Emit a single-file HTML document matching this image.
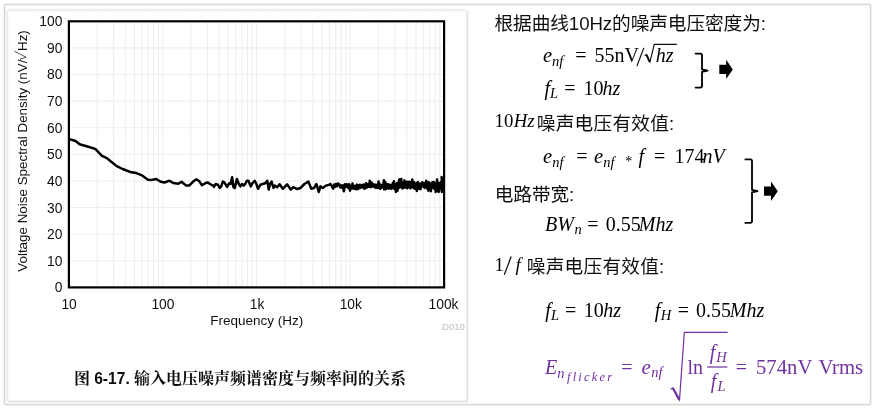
<!DOCTYPE html>
<html lang="zh"><head><meta charset="utf-8"><title>Figure 6-17</title>
<style>html,body{margin:0;padding:0;background:#fff;}body{width:875px;height:409px;overflow:hidden;font-family:"Liberation Sans",sans-serif;}svg{display:block;}</style>
</head><body>
<svg width="875" height="409" viewBox="0 0 875 409">
<title>图 6-17. 输入电压噪声频谱密度与频率间的关系</title>
<desc>Voltage Noise Spectral Density (nV/√Hz) vs Frequency (Hz), 10 Hz to 100 kHz. 根据曲线10Hz的噪声电压密度为: e_nf = 55nV/√hz, f_L = 10hz. 10Hz噪声电压有效值: e_nf = e_nf * f = 174nV. 电路带宽: BW_n = 0.55Mhz. 1/f噪声电压有效值: f_L = 10hz, f_H = 0.55Mhz. E_n_flicker = e_nf √(ln f_H/f_L) = 574nV Vrms</desc>
<defs><filter id="soft" x="0" y="0" width="875" height="409" filterUnits="userSpaceOnUse"><feGaussianBlur stdDeviation="0.45"/></filter></defs>
<rect width="875" height="409" fill="#fff"/>
<g filter="url(#soft)">
<rect width="875" height="409" fill="#fff"/>
<rect x="4.5" y="4.4" width="866.1" height="400.2" rx="1.5" fill="#fff" stroke="#efefef" stroke-width="2.4"/>
<rect x="4.5" y="4.4" width="866.1" height="400.2" rx="1.5" fill="none" stroke="#d4d4d4" stroke-width="1"/>
<rect x="7.2" y="10" width="460.2" height="391.5" rx="2" fill="none" stroke="#f3f3f3" stroke-width="2.4"/>
<path d="M9 10H465.6M7.2 12V399.6" fill="none" stroke="#e3e3e3" stroke-width="1" stroke-dasharray="1.2 0.9"/>
<path d="M467.4 11.5V399.5Q467.4 401.5 465.4 401.5H8.5" fill="none" stroke="#e2e2e2" stroke-width="1.5"/>
<path d="M97.14 21.3V287.4M113.65 21.3V287.4M125.37 21.3V287.4M134.46 21.3V287.4M141.89 21.3V287.4M148.17 21.3V287.4M153.61 21.3V287.4M158.41 21.3V287.4M162.7 21.3V287.4M190.94 21.3V287.4M207.45 21.3V287.4M219.17 21.3V287.4M228.26 21.3V287.4M235.69 21.3V287.4M241.97 21.3V287.4M247.41 21.3V287.4M252.21 21.3V287.4M256.5 21.3V287.4M284.74 21.3V287.4M301.25 21.3V287.4M312.97 21.3V287.4M322.06 21.3V287.4M329.49 21.3V287.4M335.77 21.3V287.4M341.21 21.3V287.4M346.01 21.3V287.4M350.3 21.3V287.4M378.54 21.3V287.4M395.05 21.3V287.4M406.77 21.3V287.4M415.86 21.3V287.4M423.29 21.3V287.4M429.57 21.3V287.4M435.01 21.3V287.4M439.81 21.3V287.4M68.9 260.79H444.1M68.9 234.18H444.1M68.9 207.57H444.1M68.9 180.96H444.1M68.9 154.35H444.1M68.9 127.74H444.1M68.9 101.13H444.1M68.9 74.52H444.1M68.9 47.91H444.1" stroke="#eeeeee" stroke-width="1.1" fill="none"/>
<path d="M69.4 139.1L75.6 141L79.6 144.2L87.4 146.5L95.2 148.9L102 155.9L106.9 158.2L116.7 166.1L122.6 169L131.4 172.3L136.3 173.1L142.1 175.4L148 179.8L151.9 179.9L156.2 179L160.7 181.7L164.6 182.5L169.5 180.7L173.4 183.1L178.3 183.7L181.6 181.7L186.1 185.6L189.1 185.6L193.2 181.6L196.4 179.2L199.6 181.6L202 185.3L205.2 183.2L207.6 182.4L210 184L213.2 185.6L214 186.9L215.6 184L218 184.8L219.6 188L221.2 186.4L222.8 181.6L224.4 182.4L227.1 186.9L229.2 183.2L230.8 184L232.1 177.3L233.5 187.2L234.8 188L236.9 178.9L238.8 184L240.4 186.4L242 184L243.6 185.6L245.2 184L246.8 180.8L248.4 180.8L250.8 186.4L252.4 183.2L254.8 180.8L256.4 184L258 188.8L260.4 184.8L262.8 184L265.2 183.2L267.3 180.8L268.7 189.6L270 184L271.6 181.6L273.5 188L274.8 185.6L277.2 187.2L279.6 184.3L282.8 188.8L287.1 184.3L290.8 189.6L293.2 187.2L297.2 189.1L300.4 188L304.4 184L308.4 181.6L311.3 188.8L314 188L316.4 184L318.8 192L320.4 186.4L322.8 188L326 185.6L329.2 184.8L330.41 183.93L331.69 185.89L333.13 188.59L334.14 184.57L334.76 187.01L335.98 183.95L337.05 186.36L337.79 183.49L338.59 184.69L339.31 184.31L340.53 187.47L341.18 185.42L341.72 187.45L342.83 185.43L343.84 191.21L344.93 184.18L345.81 186.78L346.93 184.27L348.01 187.65L348.97 184.26L349.95 190.64L350.76 187.57L351.52 185.4L352 188.53L352.52 183.44L353.17 188.22L353.84 186.04L354.27 188.88L355.07 188.25L355.52 185.67L356.07 189.27L356.96 184.61L357.58 187.47L358.13 189.06L358.74 185.65L359.48 184.81L360.19 188.09L360.7 184.97L361.39 186.94L362.01 185.69L362.44 187.39L363.04 184.64L363.67 184.61L364.34 188.86L364.85 185.11L365.52 187.98L366.09 183.22L366.62 187.76L367.14 185.47L367.58 186.53L368.07 184.11L368.36 186.82L368.7 184.12L369.19 186.59L369.46 184.68L369.77 180.64L370.08 186.9L370.69 187.16L371.19 185.12L371.67 182.58L372.06 185.57L372.54 186.35L373.13 184.26L373.5 184.43L374.1 186.77L374.55 184.65L375 187.48L375.49 184.76L376.06 187.71L376.67 184.96L376.99 184.81L377.43 188L377.74 184.82L378.14 187.79L378.54 181.45L378.97 182.99L379.24 187.52L379.77 184.31L380.18 188.91L380.56 186.41L381.08 184.97L381.67 187.77L382.12 185.42L382.68 187L383.24 185.85L383.86 180.3L384.21 189.37L384.53 182.96L385.02 186.81L385.3 181.88L385.78 189.15L386.21 183.98L386.82 186.46L387.14 184.26L387.61 187.13L387.97 184.21L388.33 188.67L388.85 185.6L389.15 188.18L389.74 184.79L390.02 186.37L390.63 185.08L391.25 188.87L391.75 184.98L392.24 187.38L392.81 183.02L393.39 188.02L393.92 181.15L394.21 184.01L394.48 188.97L394.9 185.25L395.23 187.23L395.55 184.61L395.93 191.96L396.33 188.19L396.77 186.23L397.14 182.97L397.49 190.78L398.11 184.33L398.48 188.19L398.83 182.13L399.26 179.49L399.68 187.55L400.13 179.17L400.58 185.08L400.87 185.82L401.29 178.93L401.62 186.97L401.92 184.83L402.52 188.52L402.8 183.49L403.2 188.06L403.59 182.28L403.9 185.82L404.46 180.37L404.76 187.52L405.05 184.96L405.43 185.84L405.81 183.17L406.32 187.51L406.88 181.76L407.4 188.36L407.72 184.52L408.23 185.73L408.7 184.96L409.1 181.77L409.45 186.81L409.73 182.21L410.03 186.15L410.46 188.38L410.85 187.21L411.28 181.85L411.9 185.97L412.32 179.58L412.76 183.84L413.13 187.67L413.67 184.01L414.29 182.24L414.71 188.71L414.99 184.97L415.59 188.63L416.1 188.02L416.51 183.53L416.84 190.92L417.25 182.85L417.88 182.06L418.39 188.77L418.87 183.55L419.17 187.17L419.71 184.36L420.08 186.15L420.59 189.21L421.16 183.26L421.62 184.63L422.09 185.92L422.42 182.18L422.91 186.32L423.38 184.13L423.73 186.91L424.32 183.15L424.67 188.02L425.26 183.94L425.72 184.35L426.21 180.65L426.68 186.55L427.16 182.84L427.45 188.99L427.84 188.26L428.19 182.22L428.5 190.74L428.99 182.49L429.55 182.63L430.17 189.39L430.47 184.5L430.91 191.27L431.38 184.79L431.78 187.52L432.39 182.27L432.77 187.4L433.3 187L433.75 182.06L434.13 188.76L434.42 184.14L434.71 185.82L435.34 183.51L435.64 191.97L436.04 183.99L436.45 185.56L437.07 179.51L437.68 190.98L438.23 182.53L438.74 191.88L439.15 188.46L439.56 188.18L439.88 183.12L440.51 186.84L440.95 182.12L441.28 185.44L441.87 192L442.49 184.18L443.09 184.58L443.52 188.12L441.6 177L442.4 190.5L443.3 183" stroke="#000" stroke-width="2.5" fill="none" stroke-linejoin="round" stroke-linecap="round"/>
<rect x="68.9" y="21.3" width="375.2" height="266.1" fill="none" stroke="#000" stroke-width="2.2"/>
<g font-family="'Liberation Sans', sans-serif" font-size="13.8" fill="#111" text-anchor="end">
<text x="62.4" y="292.3">0</text>
<text x="62.4" y="265.7">10</text>
<text x="62.4" y="239.1">20</text>
<text x="62.4" y="212.5">30</text>
<text x="62.4" y="185.9">40</text>
<text x="62.4" y="159.3">50</text>
<text x="62.4" y="132.7">60</text>
<text x="62.4" y="106">70</text>
<text x="62.4" y="79.4">80</text>
<text x="62.4" y="52.8">90</text>
<text x="62.4" y="26.2">100</text>
</g>
<g font-family="'Liberation Sans', sans-serif" font-size="13.8" fill="#111" text-anchor="middle">
<text x="69.1" y="309">10</text>
<text x="162.9" y="309">100</text>
<text x="257" y="309">1k</text>
<text x="350.8" y="309">10k</text>
<text x="443.5" y="309">100k</text>
</g>
<text x="256.7" y="324.8" font-family="'Liberation Sans', sans-serif" font-size="13.5" fill="#111" text-anchor="middle">Frequency (Hz)</text>
<g transform="translate(27.1 0) rotate(-90)">
<text x="-59.6" y="0" font-family="'Liberation Sans', sans-serif" font-size="13.4" fill="#111" text-anchor="end">Voltage Noise Spectral Density (nV/</text>
<text x="-51" y="0" font-family="'Liberation Sans', sans-serif" font-size="13.4" fill="#111">Hz)</text>
<path d="M-60.3 -6.2L-58.9 -6.9L-57.2 -0.9L-51.2 -12.7" fill="none" stroke="#444" stroke-width="0.9"/>
</g>
<text x="442" y="330.3" font-family="'Liberation Sans', sans-serif" font-size="9.6" fill="#bdbdbd">D010</text>
<g font-weight="bold" fill="#111">
<text x="74" y="384.3" font-family="'Liberation Sans', 'Noto Serif CJK SC', serif" font-size="16">图</text>
<text x="94.2" y="384.3" font-family="'Liberation Sans', 'Noto Serif CJK SC', sans-serif" font-size="15.6">6-17.</text>
<text x="134" y="384.3" font-family="'Liberation Sans', 'Noto Serif CJK SC', serif" font-size="16" textLength="272" lengthAdjust="spacing">输入电压噪声频谱密度与频率间的关系</text>
</g>
<text x="494.5" y="30.2" font-family="'Liberation Sans', 'Noto Sans CJK SC', sans-serif" font-size="18.7" fill="#111" textLength="271.5" lengthAdjust="spacing">根据曲线10Hz的噪声电压密度为:</text>
<g font-family="'Liberation Serif', serif" fill="#000">
<text x="543" y="62.2" font-size="20.5" font-style="italic">e</text>
<text x="552" y="66.4" font-size="14.5" font-style="italic">nf</text>
<text x="581" y="62.2" font-size="20" text-anchor="middle">=</text>
<text x="594.5" y="62.2" font-size="20">55nV</text>
<text x="655.8" y="62.2" font-size="20" font-style="italic">hz</text>
<text x="544.5" y="94.5" font-size="20" font-style="italic">f</text>
<text x="550" y="98.1" font-size="14.5" font-style="italic">L</text>
<text x="570" y="94.5" font-size="20" text-anchor="middle">=</text>
<text x="583.5" y="94.5" font-size="20">10</text>
<text x="602.6" y="94.5" font-size="20" font-style="italic">hz</text>
</g>
<path d="M636.9 66.1L643.8 47.9" stroke="#111" stroke-width="1.25" fill="none"/>
<path d="M644.6 55.7l1.9 -1.1l3.4 7.4l4.4 -17.6H676.8" fill="none" stroke="#111" stroke-width="1.15" stroke-linejoin="miter"/>
<path d="M646.4 54.7l3.3 7.2" fill="none" stroke="#111" stroke-width="2"/>
<path d="M695.6 53.6H700.2Q702 53.6 702 55.4V69.4L707.6 70.6L702 71.8V85.8Q702 87.6 700.2 87.6H695.6" fill="none" stroke="#000" stroke-width="1.85" stroke-linejoin="round" stroke-linecap="round"/>
<path d="M719.3 64.8H726.2V59.8L732.8 69.4L726.2 79V74H719.3Z" fill="#000"/>
<text x="494.5" y="127.3" font-family="'Liberation Serif', serif" font-size="18.8" fill="#000">10</text>
<text x="513.8" y="127.3" font-family="'Liberation Serif', serif" font-size="18.8" font-style="italic" fill="#000">Hz</text>
<text x="536.8" y="130.1" font-family="'Liberation Sans', 'Noto Sans CJK SC', sans-serif" font-size="18.7" fill="#111" textLength="137.5" lengthAdjust="spacing">噪声电压有效值:</text>
<g font-family="'Liberation Serif', serif" fill="#000">
<text x="543" y="162.6" font-size="20.5" font-style="italic">e</text>
<text x="552.2" y="166.8" font-size="14.5" font-style="italic">nf</text>
<text x="582" y="162.6" font-size="20" text-anchor="middle">=</text>
<text x="594.1" y="162.6" font-size="20.5" font-style="italic">e</text>
<text x="603.3" y="166.8" font-size="14.5" font-style="italic">nf</text>
<text x="628.7" y="166" font-size="14" text-anchor="middle">*</text>
<text x="638.5" y="162.6" font-size="20" font-style="italic">f</text>
<text x="659.6" y="162.6" font-size="20" text-anchor="middle">=</text>
<text x="674.5" y="162.6" font-size="20">174</text>
<text x="702.4" y="162.6" font-size="20" font-style="italic">nV</text>
</g>
<text x="494.8" y="201.2" font-family="'Liberation Sans', 'Noto Sans CJK SC', sans-serif" font-size="18.7" fill="#111" textLength="79.5" lengthAdjust="spacing">电路带宽:</text>
<g font-family="'Liberation Serif', serif" fill="#000">
<text x="545.1" y="230.5" font-size="20" font-style="italic">BW</text>
<text x="574.6" y="234.4" font-size="14.5" font-style="italic">n</text>
<text x="592.9" y="230.5" font-size="20" text-anchor="middle">=</text>
<text x="605.8" y="230.5" font-size="20">0.55</text>
<text x="638.8" y="230.5" font-size="20" font-style="italic">Mhz</text>
</g>
<path d="M745.4 159.4H750.2Q752 159.4 752 161.2V189.95L757.6 191.15L752 192.35V221.1Q752 222.9 750.2 222.9H745.4" fill="none" stroke="#000" stroke-width="1.85" stroke-linejoin="round" stroke-linecap="round"/>
<path d="M764 186.6H771V181.4L777.8 191.2L771 201V195.8H764Z" fill="#000"/>
<text x="494.5" y="270.8" font-family="'Liberation Serif', serif" font-size="18.8" fill="#000">1</text>
<path d="M504.3 274.7L511.2 256.5" stroke="#111" stroke-width="1.25" fill="none"/>
<text x="515.5" y="270.8" font-family="'Liberation Serif', serif" font-size="19" font-style="italic" fill="#000">f</text>
<text x="526.8" y="272.5" font-family="'Liberation Sans', 'Noto Sans CJK SC', sans-serif" font-size="18.7" fill="#111" textLength="137.5" lengthAdjust="spacing">噪声电压有效值:</text>
<g font-family="'Liberation Serif', serif" fill="#000">
<text x="545.3" y="316.5" font-size="20" font-style="italic">f</text>
<text x="551" y="320.2" font-size="14.5" font-style="italic">L</text>
<text x="570.7" y="316.5" font-size="20" text-anchor="middle">=</text>
<text x="583.7" y="316.5" font-size="20">10</text>
<text x="603.2" y="316.5" font-size="20" font-style="italic">hz</text>
<text x="654.7" y="316.5" font-size="20" font-style="italic">f</text>
<text x="660.7" y="320.3" font-size="14.5" font-style="italic">H</text>
<text x="683.4" y="316.5" font-size="20" text-anchor="middle">=</text>
<text x="696.1" y="316.5" font-size="20">0.55</text>
<text x="729.8" y="316.5" font-size="20" font-style="italic">Mhz</text>
</g>
<g font-family="'Liberation Serif', serif" fill="#7030a0">
<text x="545.1" y="373.5" font-size="20" font-style="italic">E</text>
<text x="557.3" y="377.9" font-size="14.5" font-style="italic">n</text>
<text x="567" y="380.9" font-size="12.5" font-style="italic" textLength="45" lengthAdjust="spacing">flicker</text>
<text x="627" y="373.5" font-size="20" text-anchor="middle">=</text>
<text x="641.5" y="373.5" font-size="21" font-style="italic">e</text>
<text x="651.3" y="377.4" font-size="14.5" font-style="italic">nf</text>
<text x="687.4" y="373.5" font-size="20">ln</text>
<text x="709.7" y="358.5" font-size="20" font-style="italic">f</text>
<text x="716.2" y="362.3" font-size="14.5" font-style="italic">H</text>
<text x="710.7" y="387.7" font-size="20" font-style="italic">f</text>
<text x="717.4" y="390.6" font-size="14.5" font-style="italic">L</text>
<text x="741.3" y="373.5" font-size="20" text-anchor="middle">=</text>
<text x="756" y="373.5" font-size="20.7">574nV</text>
<text x="818.4" y="373.5" font-size="20.7">Vrms</text>
</g>
<path d="M670.7 389.2l2.2 -1.3l6.6 12.1l4.8 -67.7H727.6" fill="none" stroke="#7030a0" stroke-width="1.2" stroke-linejoin="miter"/>
<path d="M672.8 388l6.4 11.6" fill="none" stroke="#7030a0" stroke-width="2.2"/>
<path d="M707.2 367H727.4" stroke="#7030a0" stroke-width="1.2"/>
</g>
</svg>
</body></html>
